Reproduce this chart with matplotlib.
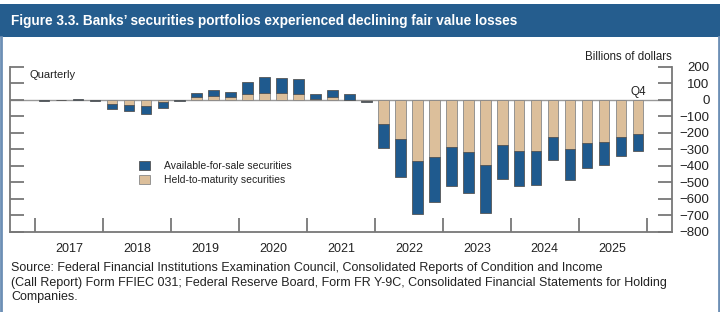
import numpy as np
import matplotlib.pyplot as plt
from matplotlib.patches import Rectangle
from matplotlib.lines import Line2D

plt.rcParams['font.family'] = ['Liberation Sans', 'DejaVu Sans']

# quarterly data, 2017:Q1 - 2025:Q4, billions of dollars
years = ['2017', '2018', '2019', '2020', '2021', '2022', '2023', '2024', '2025']
htm = [0, 0, 0, -3, -24, -30, -38, -16,
       -1, 14, 21, 14, 33, 38, 38, 33,
       2, 15, 1, -10, -146, -241, -369, -345,
       -284, -314, -393, -276, -308, -308, -225, -298,
       -262, -254, -225, -205]
afs = [-5, -4, 6, -5, -31, -37, -47, -35,
       -4, 24, 37, 32, 72, 99, 93, 90,
       30, 43, 32, -3, -146, -227, -322, -277,
       -237, -254, -294, -204, -213, -209, -140, -191,
       -151, -144, -115, -103]

blue = '#1f5a8e'
tan = '#dcbf9b'
grey = '#777777'
txt = '#222222'

fig = plt.figure(figsize=(7.2, 3.12), dpi=100)

# title banner and side frame
fig.patches.append(Rectangle((0, 1 - 37 / 312), 1, 33 / 312, transform=fig.transFigure,
                             facecolor='#255d8e', edgecolor='none'))
fig.text(11 / 720, 1 - 21 / 312, 'Figure 3.3. Banks’ securities portfolios experienced declining fair value losses',
         color='white', fontsize=9.8, fontweight='bold', va='center', ha='left')
fig.add_artist(Line2D([1 / 720, 1 / 720], [0, 1 - 37 / 312], transform=fig.transFigure,
                      color='#6d8fb5', lw=2))
fig.add_artist(Line2D([719 / 720, 719 / 720], [0, 1 - 37 / 312], transform=fig.transFigure,
                      color='#6d8fb5', lw=2))

ax = fig.add_axes([10 / 720, 1 - 231.7 / 312, 662 / 720, 165 / 312])
x = np.arange(len(htm))
htm = np.array(htm)
afs = np.array(afs)
ax.axhline(0, color='#999999', lw=1, zorder=1)
ax.bar(x, htm, width=0.62, color=tan, edgecolor='#888888', linewidth=0.6, zorder=2,
       label='Held-to-maturity securities')
ax.bar(x, afs, bottom=htm, width=0.62, color=blue, edgecolor='#555555', linewidth=0.6, zorder=2,
       label='Available-for-sale securities')

ax.set_xlim(-2, 37)
ax.set_ylim(-800, 200)
ax.spines['top'].set_visible(False)
for s in ['left', 'right', 'bottom']:
    ax.spines[s].set_color(grey)
    ax.spines[s].set_linewidth(1.3)

ax.yaxis.tick_right()
ax.set_yticks(np.arange(-800, 201, 100))
ax.set_yticklabels([f'{v}'.replace('-', '\u2212') for v in range(-800, 201, 100)], ha='right')
ax.tick_params(axis='y', which='major', direction='in', length=10, width=1.3, color=grey,
               left=True, right=True, labelleft=False, labelright=True, pad=27, labelsize=9.5,
               labelcolor=txt)

ax.set_xticks(np.arange(-0.5, 36, 4))
ax.set_xticklabels([])
ax.set_xticks(np.arange(1.5, 36, 4), minor=True)
ax.set_xticklabels(years, minor=True)
ax.tick_params(axis='x', which='major', direction='in', length=10, width=1.3, color=grey)
ax.tick_params(axis='x', which='minor', length=0, pad=8, labelsize=9, labelcolor=txt)

fig.text(30 / 720, 1 - 75 / 312, 'Quarterly', fontsize=8, color=txt, va='center')
fig.text(672 / 720, 1 - 57 / 312, 'Billions of dollars', fontsize=8.3, color=txt,
         ha='right', va='center')
ax.text(x[-1], 12, 'Q4', ha='center', va='bottom', fontsize=8.5, color=txt)

h, l = ax.get_legend_handles_labels()
ax.legend(h[::-1], l[::-1], loc='upper left', bbox_to_anchor=(124 / 662, 0.46),
          frameon=False, fontsize=7.5, handlelength=1.05, handleheight=1.0, borderpad=0,
          handletextpad=1.35, labelspacing=0.35, labelcolor=txt)

src = ('Source: Federal Financial Institutions Examination Council, Consolidated Reports of Condition and Income\n'
       '(Call Report) Form FFIEC 031; Federal Reserve Board, Form FR Y-9C, Consolidated Financial Statements for Holding\n'
       'Companies.')
fig.text(11 / 720, 1 - 262 / 312, src, fontsize=9, color=txt, va='top', linespacing=1.3)

fig.savefig('out.png', dpi=100)
